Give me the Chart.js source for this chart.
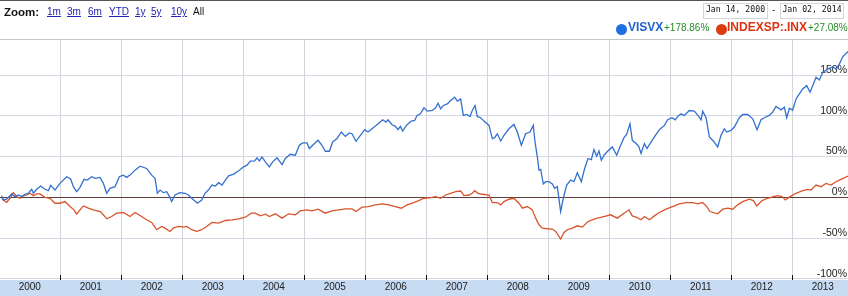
<!DOCTYPE html>
<html>
<head>
<meta charset="utf-8">
<script src="https://cdn.jsdelivr.net/npm/chart.js@4.4.1/dist/chart.umd.min.js"></script>
<style>
html, body { margin: 0; padding: 0; background: #fff; overflow: hidden; }
#wrap { position: relative; width: 848px; height: 296px; }
#chart { position: absolute; left: 0; top: 0; }
#head { position: absolute; left: 0; top: 0; width: 848px; height: 38px; border-top: 1px solid #555; border-bottom: 1px solid #c6c6c6; font-family: "Liberation Sans", Arial, sans-serif; }
#head span { position: absolute; white-space: nowrap; }
.zl { top: 5px; line-height: 12px; font-size: 10px; color: #2323b8; text-decoration: underline; }
.box { top: 2px; height: 14px; line-height: 14px; border: 1px solid #d4d4d4; font: 8.2px "DejaVu Sans Mono", monospace; color: #111; text-align: center; }
.dot { top: 23px; width: 11px; height: 11px; border-radius: 50%; }
.nm { top: 19px; line-height: 14px; font-size: 12px; font-weight: bold; }
.pc { top: 21px; line-height: 12px; font-size: 10px; color: #2b8a2b; }
</style>
</head>
<body>
<div id="wrap">
  <canvas id="chart" width="848" height="296"></canvas>
  <div id="head">
    <span style="left:4px;top:4px;line-height:14px;font-size:11.5px;font-weight:bold;color:#111">Zoom:</span>
    <span class="zl" style="left:47px">1m</span>
    <span class="zl" style="left:67px">3m</span>
    <span class="zl" style="left:88px">6m</span>
    <span class="zl" style="left:109px">YTD</span>
    <span class="zl" style="left:135px">1y</span>
    <span class="zl" style="left:151px">5y</span>
    <span class="zl" style="left:171px">10y</span>
    <span class="zl" style="left:193px;color:#111;text-decoration:none">All</span>
    <span class="box" style="left:703px;width:63px">Jan 14, 2000</span>
    <span style="left:772px;top:3px;font-size:10px;color:#333">-</span>
    <span class="box" style="left:780px;width:62px">Jan 02, 2014</span>
    <span class="dot" style="left:616px;background:#1f6fe0"></span>
    <span class="nm" style="left:628px;color:#1f62d0">VISVX</span>
    <span class="pc" style="left:664px">+178.86%</span>
    <span class="dot" style="left:716px;background:#dd3c10"></span>
    <span class="nm" style="left:727px;color:#dd3311">INDEXSP:.INX</span>
    <span class="pc" style="left:808px">+27.08%</span>
  </div>
</div>
<script>
// dates as fractional years, values as % change since Jan 14, 2000
const visvxYears = [
  2000.036, 2000.066, 2000.121, 2000.203, 2000.257, 2000.312, 2000.367, 2000.421, 2000.476, 2000.531,
  2000.558, 2000.613, 2000.678, 2000.749, 2000.804, 2000.842, 2000.913, 2000.995, 2001.104, 2001.170,
  2001.214, 2001.268, 2001.323, 2001.389, 2001.443, 2001.514, 2001.569, 2001.651, 2001.706, 2001.760,
  2001.815, 2001.897, 2001.968, 2002.033, 2002.088, 2002.143, 2002.225, 2002.307, 2002.416, 2002.498,
  2002.553, 2002.591, 2002.635, 2002.689, 2002.744, 2002.782, 2002.826, 2002.880, 2002.962, 2003.044,
  2003.099, 2003.154, 2003.247, 2003.318, 2003.372, 2003.427,
  2003.487, 2003.542, 2003.596, 2003.651, 2003.706, 2003.760, 2003.842, 2003.924, 2004.006, 2004.061,
  2004.115, 2004.187, 2004.225, 2004.263, 2004.307, 2004.361, 2004.427, 2004.482, 2004.553, 2004.635,
  2004.689, 2004.771, 2004.853, 2004.919, 2004.973, 2005.044, 2005.083, 2005.137, 2005.225, 2005.290,
  2005.345, 2005.411, 2005.465, 2005.536, 2005.607, 2005.673, 2005.738, 2005.782, 2005.848, 2005.919,
  2005.990, 2006.044, 2006.110, 2006.176, 2006.230, 2006.285, 2006.340, 2006.372, 2006.438, 2006.493,
  2006.536, 2006.574, 2006.613, 2006.684, 2006.755, 2006.809, 2006.848, 2006.902,
  2006.962, 2007.017, 2007.099, 2007.153, 2007.192, 2007.235, 2007.279, 2007.345, 2007.399, 2007.465,
  2007.508, 2007.563, 2007.607, 2007.662, 2007.716, 2007.754, 2007.798, 2007.836, 2007.891, 2007.946,
  2008.028, 2008.082, 2008.121, 2008.164, 2008.219, 2008.274, 2008.355, 2008.437, 2008.492, 2008.558,
  2008.629, 2008.700, 2008.754, 2008.782, 2008.820, 2008.847, 2008.875, 2008.918, 2008.957, 2009.011,
  2009.066, 2009.104, 2009.148, 2009.202, 2009.246, 2009.301, 2009.366, 2009.421, 2009.476, 2009.541,
  2009.596, 2009.651, 2009.705, 2009.749, 2009.793, 2009.831, 2009.869, 2009.913, 2009.968, 2010.049,
  2010.121, 2010.186, 2010.241, 2010.284, 2010.339, 2010.377,
  2010.438, 2010.482, 2010.520, 2010.575, 2010.618, 2010.668, 2010.739, 2010.821, 2010.903, 2010.957,
  2011.028, 2011.083, 2011.121, 2011.176, 2011.230, 2011.312, 2011.394, 2011.465, 2011.504, 2011.531,
  2011.586, 2011.640, 2011.706, 2011.777, 2011.831, 2011.886, 2011.924, 2011.995, 2012.050, 2012.132,
  2012.187, 2012.269, 2012.351, 2012.422, 2012.487, 2012.542, 2012.624, 2012.678, 2012.733, 2012.815,
  2012.870, 2012.908, 2012.952, 2013.006, 2013.061, 2013.116, 2013.170, 2013.236, 2013.291, 2013.334,
  2013.389, 2013.444, 2013.498, 2013.580, 2013.662, 2013.717, 2013.771, 2013.826, 2013.913, 2014.003
];
const visvxPct = [
  2.0, -3.3, -2.4, 4.1, 0.8, 2.8, 0.8, 3.7, 4.9, 9.8,
  4.9, 9.8, 13.8, 9.8, 8.1, 14.6, 8.9, 17.1, 25.2, 22.4,
  13.0, 6.9, 12.2, 22.0, 21.1, 25.2, 23.2, 24.4, 17.1, 4.9,
  11.0, 13.0, 25.2, 27.2, 24.4, 27.2, 33.3, 38.2, 35.4, 27.2,
  23.2, 4.9, 8.9, 5.7, 6.9, 2.0, -5.3, 2.8, 5.7, 4.9,
  2.8, -1.2, -7.3, -3.3, 4.9, 8.9,
  15.0, 13.8, 17.9, 15.0, 21.1, 26.4, 28.5, 32.5, 37.4, 39.4,
  44.3, 44.7, 48.4, 44.7, 49.6, 43.5, 37.4, 43.5, 48.4, 40.2,
  47.6, 52.8, 51.6, 63.8, 66.7, 66.7, 59.8, 63.8, 69.9, 63.8,
  56.5, 56.5, 67.9, 72.0, 80.1, 74.8, 78.9, 78.0, 68.7, 76.0,
  82.9, 80.1, 84.1, 88.2, 91.5, 95.1, 92.3, 95.1, 89.0, 87.0,
  82.9, 87.0, 81.3, 89.0, 93.5, 94.3, 100.4, 102.4,
  109.8, 105.7, 106.5, 109.8, 115.4, 108.5, 112.6, 114.6, 118.7, 122.8,
  117.9, 120.7, 100.4, 101.6, 99.2, 106.5, 112.6, 99.2, 97.6, 93.5,
  88.2, 72.0, 73.2, 78.0, 69.1, 76.0, 84.1, 89.4, 80.1, 63.8,
  78.0, 80.1, 88.2, 67.9, 49.6, 33.3, 34.1, 16.3, 19.1, 19.1,
  16.3, 11.0, 13.0, -17.5, -1.2, 15.0, 21.1, 19.1, 30.1, 19.1,
  35.4, 47.6, 46.3, 58.5, 50.4, 56.9, 45.5, 51.6, 56.1, 61.8,
  51.6, 63.8, 73.2, 77.2, 90.2, 69.9,
  65.9, 62.6, 53.7, 65.9, 59.8, 65.9, 74.0, 82.9, 88.2, 95.1,
  97.6, 95.1, 99.2, 102.4, 100.4, 106.5, 105.7, 99.2, 95.1, 105.7,
  97.6, 74.0, 69.1, 61.8, 76.0, 84.1, 80.1, 82.1, 86.2, 97.6,
  101.6, 101.6, 96.3, 82.9, 95.1, 97.6, 100.4, 104.5, 111.4, 107.3,
  110.6, 97.6, 109.3, 106.9, 120.7, 126.8, 132.9, 137.0, 128.9, 137.0,
  147.2, 143.9, 153.3, 157.3, 160.2, 157.3, 163.4, 172.4, 178.9, 178.86
];
const inxYears = [
  2000.036, 2000.066, 2000.121, 2000.175, 2000.230, 2000.285, 2000.339, 2000.394, 2000.449, 2000.503,
  2000.558, 2000.613, 2000.667, 2000.749, 2000.831, 2000.913, 2000.995, 2001.077, 2001.159, 2001.225,
  2001.268, 2001.323, 2001.378, 2001.460, 2001.541, 2001.651, 2001.706, 2001.760, 2001.842, 2001.924,
  2002.033, 2002.143, 2002.225, 2002.307, 2002.416, 2002.498, 2002.580, 2002.662, 2002.716, 2002.798,
  2002.853, 2002.935, 2003.017, 2003.072, 2003.154, 2003.236, 2003.318, 2003.400,
  2003.487, 2003.596, 2003.706, 2003.815, 2003.924, 2004.033, 2004.132, 2004.197, 2004.279, 2004.361,
  2004.427, 2004.525, 2004.635, 2004.744, 2004.853, 2004.935, 2005.044, 2005.126, 2005.225, 2005.345,
  2005.454, 2005.564, 2005.673, 2005.782, 2005.848, 2005.946, 2006.055, 2006.165, 2006.274, 2006.383,
  2006.493, 2006.591, 2006.684, 2006.793, 2006.875,
  2006.962, 2007.071, 2007.153, 2007.235, 2007.317, 2007.399, 2007.481, 2007.563, 2007.618, 2007.700,
  2007.754, 2007.793, 2007.847, 2007.918, 2008.028, 2008.082, 2008.164, 2008.219, 2008.274, 2008.355,
  2008.437, 2008.519, 2008.574, 2008.656, 2008.738, 2008.793, 2008.847, 2008.902, 2008.984, 2009.066,
  2009.121, 2009.202, 2009.257, 2009.312, 2009.394, 2009.476, 2009.558, 2009.651, 2009.722, 2009.804,
  2009.913, 2010.022, 2010.131, 2010.241, 2010.323, 2010.377,
  2010.438, 2010.520, 2010.575, 2010.657, 2010.739, 2010.821, 2010.930, 2011.039, 2011.148, 2011.258,
  2011.367, 2011.449, 2011.531, 2011.597, 2011.651, 2011.777, 2011.859, 2011.941, 2012.023, 2012.105,
  2012.187, 2012.296, 2012.362, 2012.416, 2012.504, 2012.597, 2012.689, 2012.760, 2012.831, 2012.886,
  2012.963, 2013.061, 2013.170, 2013.252, 2013.307, 2013.389, 2013.471, 2013.553, 2013.635, 2013.717,
  2013.799, 2013.913, 2014.003
];
const inxPct = [
  0.0, -3.3, -6.1, -1.2, 5.7, 0.8, -1.2, 1.6, 2.8, 4.9,
  2.0, 4.1, 4.1, 0.0, -1.2, -7.3, -7.3, -5.3, -11.4, -15.4,
  -20.7, -15.4, -10.6, -13.4, -15.4, -17.5, -21.5, -26.4, -23.6, -19.5,
  -18.7, -23.6, -18.7, -22.4, -27.6, -30.9, -39.8, -35.8, -37.8, -41.9,
  -37.8, -35.8, -36.6, -35.8, -39.8, -41.9, -39.8, -35.8,
  -30.9, -31.7, -28.5, -27.6, -26.4, -24.4, -19.5, -19.5, -22.8, -20.7,
  -23.6, -20.3, -25.6, -20.3, -21.5, -16.7, -15.4, -16.7, -14.6, -19.5,
  -16.7, -15.4, -14.2, -14.2, -17.5, -12.2, -11.4, -9.3, -8.1, -9.3,
  -11.4, -13.4, -9.3, -6.5, -4.1,
  -1.2, -0.4, 0.8, -1.2, 2.8, 4.9, 6.9, 7.7, 2.0, 2.8,
  4.9, 8.1, 4.9, 3.7, 2.8, -6.5, -6.5, -9.3, -5.3, -2.4,
  -1.2, -7.3, -13.4, -11.4, -15.4, -25.6, -33.7, -37.8, -38.6, -39.0,
  -41.9, -51.2, -43.1, -39.8, -37.8, -35.0, -36.6, -29.7, -27.6, -25.6,
  -23.6, -21.5, -25.6, -19.5, -15.4, -22.8,
  -24.4, -27.6, -23.6, -27.6, -22.8, -18.7, -14.6, -11.4, -8.1, -6.5,
  -6.5, -8.1, -6.5, -11.4, -17.5, -20.3, -14.6, -13.4, -14.6, -9.3,
  -5.3, -2.4, -4.1, -10.6, -4.1, -1.2, 0.8, 2.0, 0.8, -3.3,
  0.8, 4.9, 8.1, 9.8, 8.9, 15.0, 13.0, 17.1, 15.0, 19.1,
  22.0, 26.0, 27.08
];
const yearTicks = [2001, 2002, 2003, 2004, 2005, 2006, 2007, 2008, 2009, 2010, 2011, 2012, 2013];
const yearLabels = [2000, 2001, 2002, 2003, 2004, 2005, 2006, 2007, 2008, 2009, 2010, 2011, 2012, 2013];
const pctTicks = [-100, -50, 0, 50, 100, 150];

// axis labels and year band drawn through the scales
const axisDecor = {
  id: 'axisDecor',
  beforeDatasetsDraw(chart) {
    const { ctx, chartArea, scales: { y } } = chart;
    ctx.save();
    ctx.font = '10.5px "Liberation Sans", Arial, sans-serif';
    ctx.fillStyle = '#222';
    ctx.textAlign = 'right';
    ctx.textBaseline = 'middle';
    y.ticks.forEach(t => {
      ctx.fillText(t.value + '%', chartArea.right - 1, y.getPixelForValue(t.value) - 5);
    });
    ctx.restore();
  },
  afterDraw(chart) {
    const { ctx, chartArea, scales: { x } } = chart;
    ctx.save();
    ctx.fillStyle = '#c7dbf3';
    ctx.fillRect(0, chartArea.bottom, chart.width, chart.height - chartArea.bottom);
    ctx.strokeStyle = '#111';
    ctx.lineWidth = 1;
    x.ticks.forEach(t => {
      const px = Math.round(x.getPixelForValue(t.value)) + 0.5;
      ctx.beginPath();
      ctx.moveTo(px, chartArea.bottom - 5);
      ctx.lineTo(px, chartArea.bottom);
      ctx.stroke();
    });
    ctx.fillStyle = '#222';
    ctx.font = '10px "Liberation Sans", Arial, sans-serif';
    ctx.textAlign = 'center';
    ctx.textBaseline = 'middle';
    yearLabels.forEach(yr => {
      ctx.fillText(String(yr), x.getPixelForValue(yr + 0.5), chartArea.bottom + 7);
    });
    ctx.restore();
  }
};

new Chart(document.getElementById('chart'), {
  type: 'line',
  data: {
    datasets: [
      {
        label: 'VISVX',
        data: visvxYears.map((yr, i) => ({ x: yr, y: visvxPct[i] })),
        borderColor: '#3470cf',
        borderWidth: 1.3,
        pointRadius: 0,
        tension: 0
      },
      {
        label: 'INDEXSP:.INX',
        data: inxYears.map((yr, i) => ({ x: yr, y: inxPct[i] })),
        borderColor: '#d8542c',
        borderWidth: 1.3,
        pointRadius: 0,
        tension: 0
      }
    ]
  },
  options: {
    responsive: false,
    animation: false,
    devicePixelRatio: 1,
    layout: { autoPadding: false, padding: { top: 40, bottom: 16, left: 0, right: 0 } },
    plugins: { legend: { display: false }, tooltip: { enabled: false } },
    scales: {
      x: {
        type: 'linear',
        min: 2000.0115,
        max: 2013.913,
        afterBuildTicks: s => { s.ticks = yearTicks.map(v => ({ value: v })); },
        ticks: { display: false },
        grid: { color: '#d3d3d8', drawTicks: false },
        border: { display: false }
      },
      y: {
        type: 'linear',
        min: -101.5,
        max: 193,
        afterBuildTicks: s => { s.ticks = pctTicks.map(v => ({ value: v })); },
        ticks: { display: false },
        grid: {
          color: c => (c.tick && c.tick.value === 0 ? '#5e3f3a' : '#d4d7e2'),
          drawTicks: false
        },
        border: { display: false }
      }
    }
  },
  plugins: [axisDecor]
});
</script>
</body>
</html>
